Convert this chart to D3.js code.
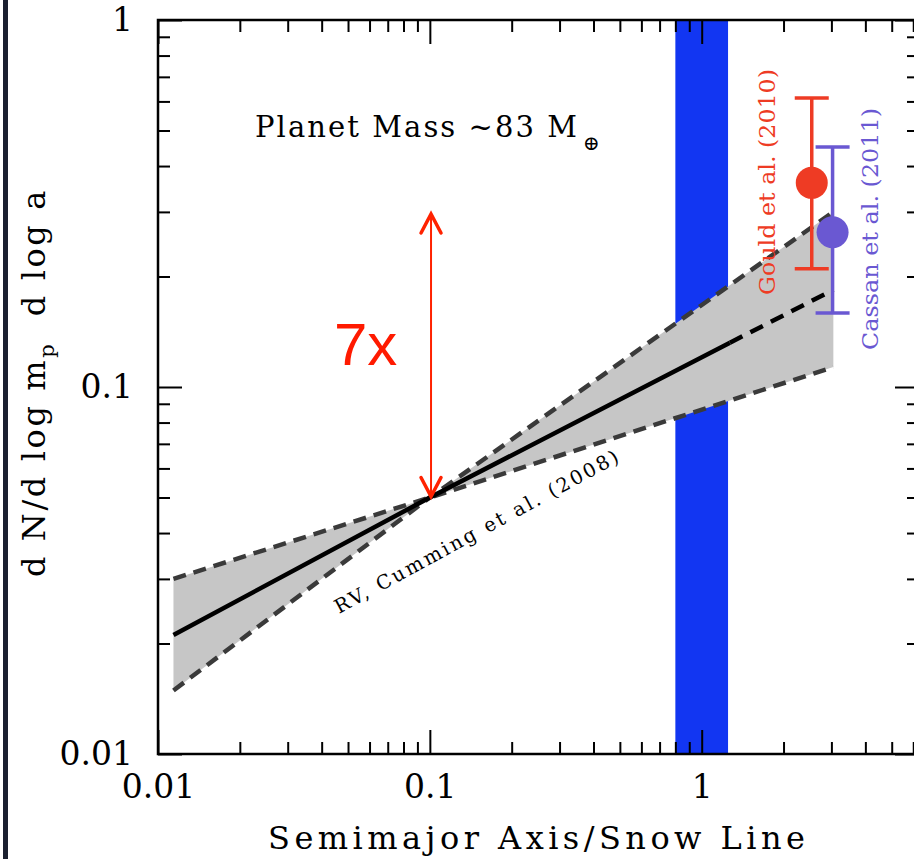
<!DOCTYPE html>
<html><head><meta charset="utf-8">
<script src="https://cdn.jsdelivr.net/npm/d3@7"></script>
<style>html,body{margin:0;padding:0;background:#fff;}svg{display:block;}</style>
</head><body>
<script>
// ---- data ----
const xDomain = [0.01, 6.3];
const yDomain = [0.01, 1];
const xMajorTicks = [0.01, 0.1, 1];
const xMajorLabels = ["0.01", "0.1", "1"];
const xMinorTicks = [0.02,0.03,0.04,0.05,0.06,0.07,0.08,0.09,0.2,0.3,0.4,0.5,0.6,0.7,0.8,0.9,2,3,4,5,6];
const yMajorTicks = [0.01, 0.1, 1];
const yMajorLabels = ["0.01", "0.1", "1"];
const yMinorTicks = [0.02,0.03,0.04,0.05,0.06,0.07,0.08,0.09,0.2,0.3,0.4,0.5,0.6,0.7,0.8,0.9];

const snowLineBand = [0.8, 1.25];
const centralSolid = [[0.0114, 0.0211], [0.1, 0.05], [1.27, 0.132]];
const centralDashed = [[1.27, 0.132], [3.05, 0.184]];
const shallowBound = [[0.0114, 0.030], [0.1, 0.05], [3.05, 0.1133]];
const steepBound = [[0.0114, 0.0149], [0.1, 0.05], [3.05, 0.300]];

const pointNames = ["Gould et al. (2010)", "Cassan et al. (2011)"];
const pointX = [2.54, 3.03];
const pointY = [0.36, 0.264];
const pointLow = [0.21, 0.159];
const pointHigh = [0.613, 0.451];
const pointColors = ["#EE3B24", "#6A58D2"];

const arrowSpan = [[0.101, 0.05], [0.101, 0.298]];

// ---- chart ----
const W = 914, H = 859;
const svg = d3.select("body").append("svg").attr("width", W).attr("height", H);
const x = d3.scaleLog().domain(xDomain).range([158, 919]);
const y = d3.scaleLog().domain(yDomain).range([754, 20]);
const serif = "DejaVu Serif";

// dark strip on left
svg.append("rect").attr("x", 3).attr("y", 0).attr("width", 5).attr("height", H).attr("fill", "#1b2030");

// snow line band
svg.append("rect")
  .attr("x", x(snowLineBand[0])).attr("width", x(snowLineBand[1]) - x(snowLineBand[0]))
  .attr("y", y(1)).attr("height", y(0.01) - y(1))
  .attr("fill", "#1236F2");

// gray band between the two bounds
const line = d3.line().x(d => x(d[0])).y(d => y(d[1]));
const poly = [shallowBound[0], shallowBound[1], steepBound[2], shallowBound[2], steepBound[1], steepBound[0]];
svg.append("path").attr("d", line(poly) + "Z").attr("fill", "#c6c6c6");

[shallowBound, steepBound].forEach(b => {
  svg.append("path").attr("d", line(b)).attr("fill", "none")
    .attr("stroke", "#3a3a3a").attr("stroke-width", 4.5).attr("stroke-dasharray", "13,8");
});
svg.append("path").attr("d", line(centralSolid)).attr("fill", "none")
  .attr("stroke", "#000").attr("stroke-width", 4.5);
svg.append("path").attr("d", line(centralDashed)).attr("fill", "none")
  .attr("stroke", "#000").attr("stroke-width", 4.5).attr("stroke-dasharray", "14,9");

// axes
function styleAxis(g) {
  g.select(".domain").remove();
  g.selectAll(".tick line").attr("stroke", "#000").attr("stroke-width", 2);
}
svg.append("g").attr("transform", `translate(0,${y(0.01)})`)
  .call(d3.axisBottom(x).tickValues(xMinorTicks).tickSize(-12).tickFormat(""))
  .call(styleAxis);
svg.append("g").attr("transform", `translate(0,${y(0.01)})`)
  .call(d3.axisBottom(x).tickValues(xMajorTicks).tickSize(-24)
    .tickFormat((d, i) => xMajorLabels[i]))
  .call(styleAxis)
  .call(g => g.selectAll("text").attr("font-family", serif).attr("font-size", 33).attr("fill", "#000")
    .attr("dy", "0.71em").attr("y", 21));
svg.append("g").attr("transform", `translate(0,${y(1)})`)
  .call(d3.axisTop(x).tickValues(xMinorTicks).tickSize(-12).tickFormat(""))
  .call(styleAxis);
svg.append("g").attr("transform", `translate(0,${y(1)})`)
  .call(d3.axisTop(x).tickValues(xMajorTicks).tickSize(-24).tickFormat(""))
  .call(styleAxis);
svg.append("g").attr("transform", `translate(${x(0.01)},0)`)
  .call(d3.axisLeft(y).tickValues(yMinorTicks).tickSize(-12).tickFormat(""))
  .call(styleAxis);
svg.append("g").attr("transform", `translate(${x(0.01)},0)`)
  .call(d3.axisLeft(y).tickValues(yMajorTicks).tickSize(-24).tickFormat((d, i) => yMajorLabels[i]))
  .call(styleAxis)
  .call(g => g.selectAll("text").attr("font-family", serif).attr("font-size", 33).attr("fill", "#000")
    .attr("x", -25));
svg.append("g").attr("transform", `translate(${x(xDomain[1])},0)`)
  .call(d3.axisRight(y).tickValues(yMinorTicks).tickSize(-12).tickFormat(""))
  .call(styleAxis);
svg.append("g").attr("transform", `translate(${x(xDomain[1])},0)`)
  .call(d3.axisRight(y).tickValues(yMajorTicks).tickSize(-24).tickFormat(""))
  .call(styleAxis);

// frame
svg.append("rect").attr("x", x(0.01)).attr("y", y(1))
  .attr("width", x(xDomain[1]) - x(0.01)).attr("height", y(0.01) - y(1))
  .attr("fill", "none").attr("stroke", "#000").attr("stroke-width", 2.5);

// error bars and points
pointNames.forEach((name, i) => {
  const cx = x(pointX[i]), c = pointColors[i];
  const g = svg.append("g");
  g.append("line").attr("x1", cx).attr("x2", cx).attr("y1", y(pointHigh[i])).attr("y2", y(pointLow[i]))
    .attr("stroke", c).attr("stroke-width", 3.5);
  [pointHigh[i], pointLow[i]].forEach(v => {
    g.append("line").attr("x1", cx - 17).attr("x2", cx + 17).attr("y1", y(v)).attr("y2", y(v))
      .attr("stroke", c).attr("stroke-width", 3.5);
  });
  g.append("circle").attr("cx", cx).attr("cy", y(pointY[i])).attr("r", 16).attr("fill", c);
});

// rotated point labels
svg.append("text").attr("transform", "translate(775,182) rotate(-90)")
  .attr("text-anchor", "middle").attr("font-family", serif).attr("font-size", 23)
  .attr("fill", pointColors[0]).attr("textLength", 226).attr("lengthAdjust", "spacingAndGlyphs")
  .text(pointNames[0]);
svg.append("text").attr("transform", "translate(878,229) rotate(-90)")
  .attr("text-anchor", "middle").attr("font-family", serif).attr("font-size", 23)
  .attr("fill", pointColors[1]).attr("textLength", 242).attr("lengthAdjust", "spacingAndGlyphs")
  .text(pointNames[1]);

// 7x arrow
const ax = x(arrowSpan[0][0]), ay0 = y(arrowSpan[0][1]), ay1 = y(arrowSpan[1][1]);
const red = "#FF2200";
svg.append("line").attr("x1", ax).attr("x2", ax).attr("y1", ay0).attr("y2", ay1)
  .attr("stroke", red).attr("stroke-width", 2);
svg.append("path").attr("d", `M${ax - 10},${ay1 + 20}L${ax},${ay1 + 1}L${ax + 10},${ay1 + 20}`)
  .attr("fill", "none").attr("stroke", red).attr("stroke-width", 3.5).attr("stroke-linecap", "round");
svg.append("path").attr("d", `M${ax - 10},${ay0 - 20}L${ax},${ay0 - 1}L${ax + 10},${ay0 - 20}`)
  .attr("fill", "none").attr("stroke", red).attr("stroke-width", 3.5).attr("stroke-linecap", "round");
svg.append("text").attr("x", 334).attr("y", 365).attr("font-family", "Liberation Sans")
  .attr("font-size", 60).attr("fill", "#FF1A00").text("7x");

// Planet mass text
const pm = svg.append("text").attr("x", 255).attr("y", 137).attr("font-family", serif)
  .attr("font-size", 29).attr("fill", "#000");
pm.append("tspan").attr("textLength", 322).attr("lengthAdjust", "spacing").text("Planet Mass ~83 M");
pm.append("tspan").attr("font-size", 20).attr("dy", 13).attr("dx", 4).text("⊕");

// RV label
svg.append("text").attr("transform", "translate(339,614) rotate(-28.5)")
  .attr("font-family", serif).attr("font-size", 19.5).attr("fill", "#000")
  .attr("textLength", 320).attr("lengthAdjust", "spacing")
  .text("RV, Cumming et al. (2008)");

// axis titles
svg.append("text").attr("x", 268).attr("y", 849).attr("font-family", serif)
  .attr("font-size", 32).attr("fill", "#000").attr("textLength", 537).attr("lengthAdjust", "spacing")
  .text("Semimajor Axis/Snow Line");

const yl = svg.append("text").attr("transform", "translate(45,577) rotate(-90)")
  .attr("font-family", serif).attr("font-size", 32).attr("fill", "#000")
  .attr("letter-spacing", 2.6).attr("xml:space", "preserve").style("white-space", "pre");
yl.append("tspan").text("d N/d log m");
yl.append("tspan").attr("font-size", 21).attr("dy", 9).text("p");
yl.append("tspan").attr("dy", -9).text("  d log a");
</script>
</body></html>
